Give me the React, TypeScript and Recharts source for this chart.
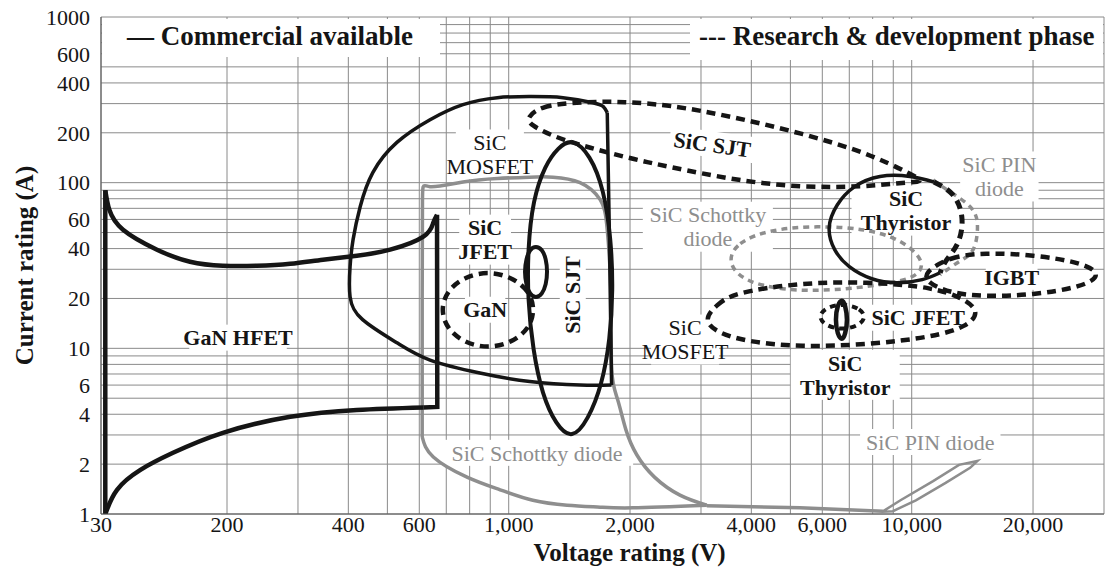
import { ComposedChart, Line, Scatter, XAxis, YAxis, CartesianGrid } from 'recharts';

type Pt = [number, number];

// axis grid and tick labels
const voltGrid = [30, 200, 300, 400, 500, 600, 700, 800, 900, 1000, 2000, 3000, 4000, 5000, 6000, 7000, 8000, 9000, 10000, 20000, 30000];
const voltLabels = [30, 200, 400, 600, 1000, 2000, 4000, 6000, 10000, 20000];
const ampGrid = [1, 2, 3, 4, 5, 6, 7, 8, 9, 10, 20, 30, 40, 50, 60, 70, 80, 90, 100, 200, 300, 400, 500, 600, 700, 800, 900, 1000];
const ampLabels = [1, 2, 4, 6, 10, 20, 40, 60, 100, 200, 400, 600, 1000];

const legendItems = ['— Commercial available', '--- Research & development phase'];

// outlines, [voltage V, current A]
const hfetTop: Pt[] = [[32, 90], [34, 68.7], [41.8, 52], [69.7, 39.4], [114.6, 33.3], [188, 31.5], [237, 31.5], [287, 32.4], [346, 34.3], [420, 36.2], [508, 39.4], [614, 47.2], [650, 57.3], [664, 64]];
const hfetRight: Pt[] = [[664, 64], [665, 4.43], [614, 4.4]];
const hfetBottom: Pt[] = [[614, 4.4], [420, 4.25], [287, 3.86], [188, 3.09], [88.7, 2.34], [54, 1.84], [38.2, 1.4], [32.8, 1.06], [32, 1]];
const hfetLeft: Pt[] = [[32, 1], [32, 90]];
const mosfetArc: Pt[] = [[1756, 265], [1716, 288], [1618, 304], [1364, 326], [1128, 331], [937, 326], [770, 296], [638, 240], [528, 175], [460, 115], [428, 71.6], [411, 45.3], [404, 31.1], [404, 20.5], [434, 14.9], [528, 10.8], [638, 8.5], [848, 7.1], [1128, 6.3], [1503, 6], [1800, 6]];
const mosfetEdge: Pt[] = [[1800, 6], [1775, 60], [1756, 265]];
const sjtComm: Pt[] = [[1436, 186], [1592, 148], [1724, 90.7], [1795, 45.3], [1815, 22.6], [1785, 11.3], [1704, 6], [1574, 3.7], [1436, 2.8], [1310, 3.45], [1211, 5.24], [1148, 9.8], [1115, 19.7], [1115, 39.4], [1148, 79], [1231, 128], [1326, 163]];
const jfetComm: Pt[] = [[1248, 29], [1238, 34.7], [1211, 39.7], [1168, 41.6], [1128, 39.7], [1105, 34.7], [1094, 29], [1105, 24.2], [1128, 21.2], [1168, 20], [1211, 21.2], [1238, 24.2]];
const schottkyOuter: Pt[] = [[610, 2.92], [610, 19.7], [611, 80], [638, 94.6], [770, 101], [937, 106], [1128, 108], [1288, 108], [1503, 100], [1686, 79], [1756, 52], [1795, 19.7], [1801, 7.42], [1864, 4.89], [1954, 3.22], [2080, 2.27], [2300, 1.67], [2660, 1.3], [3100, 1.13]];
const schottkyBottom: Pt[] = [[3100, 1.13], [2035, 1.09], [1686, 1.1], [1396, 1.13], [1148, 1.21], [952, 1.4], [788, 1.67], [650, 2.21], [610, 2.92]];
const pinTail: Pt[] = [[3100, 1.12], [5280, 1.09], [8480, 1.04]];
const pinComm: Pt[] = [[8440, 1.03], [9380, 1.21], [11300, 1.58], [13100, 1.98], [14560, 2.09], [13960, 1.9], [12140, 1.54], [10240, 1.21], [8980, 1.04]];
const thyComm: Pt[] = [[11350, 101], [9900, 109], [8340, 109], [7220, 94.6], [6540, 73.6], [6240, 53.5], [6440, 39.4], [7000, 31.1], [7960, 26.3], [9200, 24.9], [10620, 26], [11760, 28.6]];

const ganRD: Pt[] = [[1162, 17.1], [1124, 22.3], [1016, 27], [888, 29.2], [776, 27], [703, 22.3], [678, 17.1], [703, 13.1], [776, 10.8], [888, 10], [1016, 10.8], [1124, 13.1]];
const sjtRD: Pt[] = [[1110, 247], [1196, 288], [1420, 304], [1686, 308], [1890, 308], [2490, 296], [3600, 250], [5280, 200], [7740, 152], [10000, 112], [10840, 101], [9380, 100], [7740, 94.6], [5280, 93.3], [3600, 104], [2490, 125], [2080, 137], [1575, 163], [1288, 190], [1128, 224]];
const thyRD: Pt[] = [[11350, 101], [12640, 84.6], [13320, 61.5], [13020, 43.4], [12220, 34.3], [11760, 28.6]];
const pinRD: Pt[] = [[11300, 104], [12220, 90.7], [13960, 71.6], [14560, 54.2], [14200, 39.4], [13100, 33.3], [11760, 27.8]];
const schottkyRD: Pt[] = [[3480, 33.3], [3680, 43.4], [4400, 52], [5820, 55], [7740, 52.7], [9500, 45], [10840, 33.3], [10320, 26.7], [8480, 24.2], [6360, 22.3], [4900, 22.3], [3820, 25.2]];
const igbtRD: Pt[] = [[10700, 28.6], [12420, 35.7], [15120, 37.8], [20000, 36.7], [26600, 32.9], [29700, 27.8], [26600, 23.5], [20000, 21], [15120, 20.5], [12420, 21.6], [10940, 24.9]];
const jfetRD: Pt[] = [[3040, 14.9], [3280, 18.3], [3600, 21.6], [5280, 24.9], [7740, 25.2], [11300, 23.5], [13680, 19.7], [14740, 16.4], [13680, 13.5], [11300, 11.7], [7740, 10.5], [5280, 10.2], [3960, 10.9], [3280, 12.4]];
const thyRDRing: Pt[] = [[7720, 15.5], [7400, 17.6], [6720, 18.6], [6100, 17.6], [5860, 15.5], [6100, 13.7], [6720, 12.9], [7400, 13.7]];
const thyRDCore: Pt[] = [[6940, 14.9], [6840, 18.3], [6720, 19.9], [6540, 18.3], [6460, 14.9], [6540, 12.1], [6720, 11.1], [6840, 12.1]];

// region labels
const labelText = [['GaN HFET'], ['SiC', 'MOSFET'], ['SiC', 'JFET'], ['GaN'], ['SiC SJT'], ['SiC SJT'], ['SiC Schottky', 'diode'], ['SiC PIN', 'diode'], ['SiC', 'Thyristor'], ['IGBT'], ['SiC JFET'], ['SiC', 'MOSFET'], ['SiC', 'Thyristor'], ['SiC Schottky diode'], ['SiC PIN diode']];
const labelVolt = [213, 898, 874, 874, 1442, 3200, 3120, 16500, 9680, 17700, 10380, 2740, 6840, 1176, 11120];
const labelAmp = [11.6, 148, 45.3, 17.1, 21, 170, 54.2, 109, 67.8, 27, 15.3, 11.3, 6.92, 2.34, 2.72];

const FONT = '"Liberation Serif", "Times New Roman", serif';
const INK = '#151515';
const GRAY = '#8e8e8e';

// the axis is squeezed between 30 and 200 V, log above that
const LOG200 = Math.log10(200);
const SQUEEZE = 0.3795;
const xPos = (v: number) => (v >= 200 ? Math.log10(v) : LOG200 - (LOG200 - Math.log10(v)) * SQUEEZE);

const rows = (pts: Pt[], close = false) => {
  const r = pts.map(([v, a]) => ({ x: xPos(v), y: Math.log10(a) }));
  return close ? [...r, r[0]] : r;
};

const voltTicks = voltGrid.map(xPos);
const ampTicks = ampGrid.map((a) => Math.log10(a));

const fmtVolt = (t: number) => {
  const i = voltTicks.findIndex((p) => Math.abs(p - t) < 1e-6);
  const v = voltGrid[i];
  return voltLabels.includes(v) ? v.toLocaleString('en-US') : '';
};
const fmtAmp = (t: number) => {
  const a = Math.round(10 ** t);
  return ampLabels.includes(a) ? String(a) : '';
};

const labelTone = ['bold', 'plain', 'bold', 'bold', 'bold', 'bold', 'gray', 'gray', 'bold', 'bold', 'bold', 'plain', 'bold', 'gray', 'gray'];
const labelAngle = [0, 0, 0, 0, -90, 8, 0, 0, 0, 0, 0, 0, 0, 0, 0];

const labelRows = labelVolt.map((v, k) => ({ x: xPos(v), y: Math.log10(labelAmp[k]), k }));

const LabelMark = (props: any) => {
  const { cx, cy, payload } = props;
  if (cx == null || cy == null) return null;
  const k = payload.k;
  const lines = labelText[k];
  const tone = labelTone[k];
  const fs = 22;
  const lh = 24;
  const w = Math.max(...lines.map((l) => l.length)) * fs * (tone === 'bold' ? 0.52 : 0.47) + 6;
  const h = lines.length * lh + 2;
  const top = cy - ((lines.length - 1) * lh) / 2;
  return (
    <g transform={`rotate(${labelAngle[k]} ${cx} ${cy})`}>
      <rect x={cx - w / 2} y={cy - h / 2} width={w} height={h} fill="#fff" />
      <text
        x={cx}
        y={top}
        textAnchor="middle"
        fontFamily={FONT}
        fontSize={fs}
        fontWeight={tone === 'bold' ? 700 : 400}
        fill={tone === 'gray' ? GRAY : INK}
      >
        {lines.map((l, j) => (
          <tspan key={j} x={cx} dy={j === 0 ? '0.35em' : lh}>
            {l}
          </tspan>
        ))}
      </text>
    </g>
  );
};

const series = [
  { id: 'schottkyOuter', data: rows(schottkyOuter), type: 'natural', stroke: GRAY, w: 3.5 },
  { id: 'schottkyBottom', data: rows(schottkyBottom), type: 'natural', stroke: GRAY, w: 3.5 },
  { id: 'pinTail', data: rows(pinTail), type: 'linear', stroke: GRAY, w: 3.5 },
  { id: 'pin', data: rows(pinComm, true), type: 'linear', stroke: GRAY, w: 2.5 },
  { id: 'schottkyRD', data: rows(schottkyRD), type: 'basisClosed', stroke: GRAY, w: 3.5, dash: '6 5' },
  { id: 'pinRD', data: rows(pinRD), type: 'natural', stroke: GRAY, w: 3.5, dash: '6 5' },
  { id: 'hfetTop', data: rows(hfetTop), type: 'natural', stroke: INK, w: 4.5 },
  { id: 'hfetRight', data: rows(hfetRight), type: 'linear', stroke: INK, w: 4.5 },
  { id: 'hfetBottom', data: rows(hfetBottom), type: 'natural', stroke: INK, w: 4.5 },
  { id: 'hfetLeft', data: rows(hfetLeft), type: 'linear', stroke: INK, w: 4.5 },
  { id: 'mosfetArc', data: rows(mosfetArc), type: 'natural', stroke: INK, w: 3.5 },
  { id: 'mosfetEdge', data: rows(mosfetEdge), type: 'linear', stroke: INK, w: 3.5 },
  { id: 'sjt', data: rows(sjtComm), type: 'basisClosed', stroke: INK, w: 4 },
  { id: 'jfet', data: rows(jfetComm), type: 'basisClosed', stroke: INK, w: 4 },
  { id: 'thy', data: rows(thyComm), type: 'natural', stroke: INK, w: 3.5 },
  { id: 'ganRD', data: rows(ganRD), type: 'basisClosed', stroke: INK, w: 4.5, dash: '9 6' },
  { id: 'sjtRD', data: rows(sjtRD), type: 'basisClosed', stroke: INK, w: 4.5, dash: '9 6' },
  { id: 'thyRD', data: rows(thyRD), type: 'natural', stroke: INK, w: 5, dash: '9 6' },
  { id: 'igbtRD', data: rows(igbtRD), type: 'basisClosed', stroke: INK, w: 4.5, dash: '9 6' },
  { id: 'jfetRD', data: rows(jfetRD), type: 'basisClosed', stroke: INK, w: 4.5, dash: '9 6' },
  { id: 'thyRDRing', data: rows(thyRDRing), type: 'basisClosed', stroke: INK, w: 4, dash: '6 5' },
  { id: 'thyRDCore', data: rows(thyRDCore), type: 'basisClosed', stroke: INK, w: 4.5 },
];

const legendBoxes = [
  { left: 102, top: 19, width: 338, height: 38, pad: 25 },
  { left: 690, top: 19, width: 413, height: 41, pad: 9 },
];

const XTitle = (props: any) => {
  const vb = props.viewBox;
  return (
    <text x={vb.x + vb.width * 0.527} y={vb.y + 47} textAnchor="middle" fontFamily={FONT} fontSize={25} fontWeight={700} fill={INK}>
      Voltage rating (V)
    </text>
  );
};

const YTitle = (props: any) => {
  const vb = props.viewBox;
  const cy = vb.y + vb.height / 2;
  return (
    <text x={33} y={cy} transform={`rotate(-90 33 ${cy})`} textAnchor="middle" fontFamily={FONT} fontSize={25} fontWeight={700} fill={INK}>
      Current rating (A)
    </text>
  );
};

export default function App() {
  return (
    <div style={{ position: 'absolute', left: 0, top: 0, width: 1108, height: 575, background: '#fff' }}>
      <ComposedChart width={1108} height={575} margin={{ top: 17, right: 4, bottom: 21, left: 0 }}>
        <CartesianGrid stroke="#8a8a8a" strokeWidth={1} />
        <XAxis
          type="number"
          dataKey="x"
          domain={[xPos(30), xPos(30000)]}
          ticks={voltTicks}
          interval={0}
          allowDataOverflow
          tickFormatter={fmtVolt}
          height={40}
          tickLine={false}
          tickSize={0}
          tickMargin={2}
          tick={{ fontFamily: FONT, fontSize: 22, fill: INK }}
          axisLine={{ stroke: '#555' }}
          label={XTitle}
        />
        <YAxis
          type="number"
          dataKey="y"
          domain={[0, 3]}
          ticks={ampTicks}
          interval={0}
          allowDataOverflow
          tickFormatter={fmtAmp}
          width={101}
          tickLine={false}
          tickSize={6}
          tickMargin={5}
          tick={{ fontFamily: FONT, fontSize: 22, fill: INK }}
          axisLine={{ stroke: '#555' }}
          label={YTitle}
        />
        <Scatter data={labelRows} dataKey="y" shape={LabelMark} isAnimationActive={false} legendType="none" zIndex={300} />
        {series.map((s) => (
          <Line
            key={s.id}
            data={s.data}
            dataKey="y"
            type={s.type as any}
            stroke={s.stroke}
            strokeWidth={s.w}
            strokeDasharray={s.dash}
            dot={false}
            activeDot={false}
            legendType="none"
            isAnimationActive={false}
          />
        ))}
      </ComposedChart>
      {legendBoxes.map((b, i) => (
        <div
          key={i}
          style={{
            position: 'absolute',
            left: b.left,
            top: b.top,
            width: b.width,
            height: b.height,
            background: '#fff',
          }}
        >
          <div
            style={{
              position: 'absolute',
              left: b.pad,
              top: 4,
              whiteSpace: 'nowrap',
              fontFamily: FONT,
              fontSize: 27,
              lineHeight: '26px',
              fontWeight: 700,
              color: INK,
            }}
          >
            {legendItems[i]}
          </div>
        </div>
      ))}
    </div>
  );
}
